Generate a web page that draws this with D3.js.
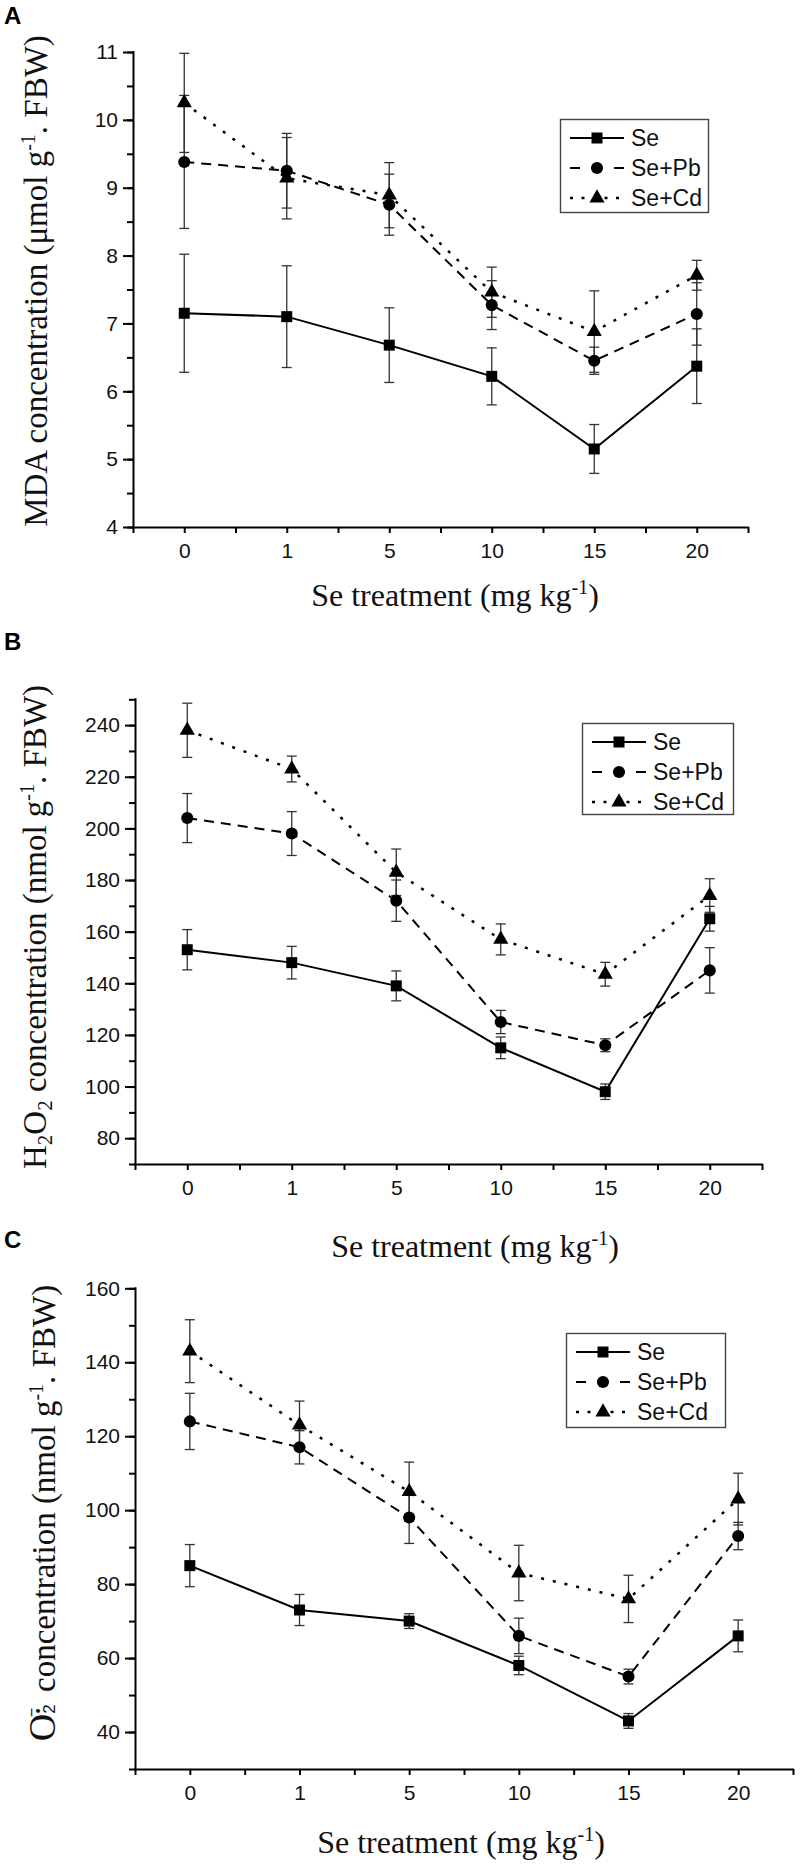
<!DOCTYPE html>
<html>
<head>
<meta charset="utf-8">
<script src="https://cdn.jsdelivr.net/npm/d3@7"></script>
<style>
  html, body { margin: 0; padding: 0; background: #fff; }
  svg { display: block; }
</style>
</head>
<body>
<script>
// ---------------- DATA ----------------
const xLabels = ["0", "1", "5", "10", "15", "20"];
const seriesNames = ["Se", "Se+Pb", "Se+Cd"];

// Panel A: MDA (µmol g-1 FBW)
const mdaSe    = [7.15, 7.10, 6.68, 6.22, 5.15, 6.37];
const mdaSeErr = [0.87, 0.75, 0.55, 0.42, 0.36, 0.55];
const mdaPb    = [9.38, 9.25, 8.75, 7.27, 6.45, 7.14];
const mdaPbErr = [0.98, 0.55, 0.45, 0.36, 0.20, 0.46];
const mdaCd    = [10.25, 9.14, 8.89, 7.46, 6.88, 7.71];
const mdaCdErr = [0.73, 0.60, 0.48, 0.37, 0.60, 0.22];
const mdaTicks = [4, 5, 6, 7, 8, 9, 10, 11];

// Panel B: H2O2 (nmol g-1 FBW)
const h2o2Se    = [153, 148, 139, 115, 98, 165];
const h2o2SeErr = [7.8, 6.3, 5.8, 4.2, 3.0, 4.8];
const h2o2Pb    = [204, 198, 172, 125, 116, 145];
const h2o2PbErr = [9.5, 8.5, 8.0, 4.5, 2.5, 8.8];
const h2o2Cd    = [238, 223, 183, 157, 143.5, 174];
const h2o2CdErr = [10.5, 5.0, 9.0, 6.0, 4.6, 6.5];
const h2o2Ticks = [80, 100, 120, 140, 160, 180, 200, 220, 240];

// Panel C: O2- (nmol g-1 FBW)
const o2Se    = [85, 73, 70, 58, 43, 66];
const o2SeErr = [5.7, 4.2, 2.0, 2.5, 2.0, 4.3];
const o2Pb    = [124, 117, 98, 66, 55, 93];
const o2PbErr = [7.6, 4.5, 7.0, 4.8, 2.0, 3.7];
const o2Cd    = [143, 123, 105, 83, 76, 103];
const o2CdErr = [8.5, 6.5, 8.0, 7.5, 6.4, 7.0];
const o2Ticks = [40, 60, 80, 100, 120, 140, 160];

// ---------------- STYLE ----------------
const SANS = "'Liberation Sans', Arial, sans-serif";
const SERIF = "'Liberation Serif', 'Times New Roman', serif";
const lineStyles = [
  { dash: null, width: 2, symbol: d3.symbolSquare, size: 121 },
  { dash: "10,7", width: 2, symbol: d3.symbolCircle, size: 115 },
  { dash: "3,9", width: 2.5, symbol: d3.symbolTriangle, size: 100 }
];
const legendDash = [null, "10,34", "3,8.5"];

const svg = d3.select("body").append("svg")
  .attr("width", 800).attr("height", 1866)
  .style("background", "#fff");

function drawPanel(p) {
  const g = svg.append("g");
  const x = d3.scaleLinear().domain([-0.5, 5.5]).range([p.left, p.right]);
  const y = d3.scaleLinear().domain(p.yDomain).range([p.bottom, p.top]);

  // panel letter
  g.append("text").attr("x", 4).attr("y", p.letterY)
    .attr("font-family", SANS).attr("font-weight", "bold").attr("font-size", 24)
    .text(p.letter);

  // x axis
  const xAxis = d3.axisBottom(x)
    .tickValues(d3.range(-0.5, 5.51, 0.5))
    .tickSize(6).tickSizeOuter(0).tickPadding(10)
    .tickFormat(d => Number.isInteger(d) ? xLabels[d] : "");
  const gx = g.append("g").attr("transform", `translate(0,${p.bottom})`).call(xAxis);
  gx.select(".domain").attr("stroke-width", 2).attr("d", `M${p.left - 1},0.5H${p.right + 1}`);
  gx.selectAll(".tick line").attr("stroke-width", 2);
  gx.selectAll(".tick text").attr("font-family", SANS).attr("font-size", 21).attr("fill", "#111");

  // y axis minor ticks
  const minor = [];
  for (let v = p.yDomain[0]; v <= p.yDomain[1] + 1e-9; v += p.minorStep) minor.push(+v.toFixed(4));
  const gyMinor = g.append("g").attr("transform", `translate(${p.left},0)`)
    .call(d3.axisLeft(y).tickValues(minor).tickSize(6).tickSizeOuter(0).tickFormat(""));
  gyMinor.select(".domain").remove();
  gyMinor.selectAll(".tick line").attr("stroke-width", 2);

  // y axis major
  const gy = g.append("g").attr("transform", `translate(${p.left},0)`)
    .call(d3.axisLeft(y).tickValues(p.ticks).tickSize(10).tickSizeOuter(0).tickPadding(5)
      .tickFormat(d => String(d)));
  gy.select(".domain").attr("stroke-width", 2).attr("d", `M0.5,${p.top - 1}V${p.bottom + 1}`);
  gy.selectAll(".tick line").attr("stroke-width", 2);
  gy.selectAll(".tick text").attr("font-family", SANS).attr("font-size", 21).attr("fill", "#111");

  // x title
  const xt = g.append("text").attr("x", p.xTitleX).attr("y", p.xTitleY)
    .attr("text-anchor", "middle").attr("font-family", SERIF).attr("font-size", 32).attr("fill", "#111");
  xt.append("tspan").text("Se treatment (mg kg");
  xt.append("tspan").attr("font-size", 20).attr("dy", -12).text("-1");
  xt.append("tspan").attr("dy", 12).text(")");

  // y title
  const yt = g.append("text")
    .attr("transform", `translate(${p.yTitleX},${p.yTitleY}) rotate(-90)`)
    .attr("text-anchor", "middle").attr("font-family", SERIF).attr("font-size", 33).attr("fill", "#111");
  p.yTitle(yt);

  // series
  const idx = d3.range(xLabels.length);
  p.series.forEach((s) => {
    const eb = g.append("g").attr("stroke", "#333").attr("stroke-width", 1.3);
    idx.forEach(i => {
      const cx = x(i), y1 = y(s.values[i] + s.err[i]), y2 = y(s.values[i] - s.err[i]);
      eb.append("line").attr("x1", cx).attr("x2", cx).attr("y1", y1).attr("y2", y2);
      eb.append("line").attr("x1", cx - 5).attr("x2", cx + 5).attr("y1", y1).attr("y2", y1);
      eb.append("line").attr("x1", cx - 5).attr("x2", cx + 5).attr("y1", y2).attr("y2", y2);
    });
  });
  p.series.forEach((s, si) => {
    const st = lineStyles[si];
    g.append("path")
      .datum(idx)
      .attr("fill", "none").attr("stroke", "#000").attr("stroke-width", st.width)
      .attr("stroke-dasharray", st.dash)
      .attr("d", d3.line().x(i => x(i)).y(i => y(s.values[i])));
  });
  p.series.forEach((s, si) => {
    const st = lineStyles[si];
    g.append("g").selectAll("path").data(idx).join("path")
      .attr("transform", i => `translate(${x(i)},${y(s.values[i])})`)
      .attr("d", d3.symbol().type(st.symbol).size(st.size))
      .attr("fill", "#000");
  });

  // legend
  const L = p.legend;
  const lg = g.append("g").attr("transform", `translate(${L.x},${L.y})`);
  lg.append("rect").attr("x", 0.5).attr("y", 0.5).attr("width", L.w).attr("height", L.h)
    .attr("fill", "#fff").attr("stroke", "#444").attr("stroke-width", 1.4);
  seriesNames.forEach((name, si) => {
    const st = lineStyles[si];
    const ry = 19 + si * 30;
    lg.append("line").attr("x1", 10).attr("x2", 64).attr("y1", ry).attr("y2", ry)
      .attr("stroke", "#000").attr("stroke-width", st.width)
      .attr("stroke-dasharray", legendDash[si]);
    lg.append("path").attr("transform", `translate(37,${ry})`)
      .attr("d", d3.symbol().type(st.symbol).size(st.size)).attr("fill", "#000");
    lg.append("text").attr("x", 71).attr("y", ry).attr("dy", "0.36em")
      .attr("font-family", SANS).attr("font-size", 23).attr("fill", "#111").text(name);
  });
}

drawPanel({
  letter: "A", letterY: 24,
  left: 133, right: 748, top: 52, bottom: 527,
  yDomain: [4, 11], ticks: mdaTicks, minorStep: 0.5,
  xTitleX: 455, xTitleY: 606,
  yTitleX: 47, yTitleY: 281,
  yTitle: t => {
    t.append("tspan").text("MDA concentration (\u03bcmol g");
    t.append("tspan").attr("font-size", 20).attr("dy", -12).text("-1");
    t.append("tspan").attr("dy", 12).text(". FBW)");
  },
  series: [
    { values: mdaSe, err: mdaSeErr },
    { values: mdaPb, err: mdaPbErr },
    { values: mdaCd, err: mdaCdErr }
  ],
  legend: { x: 560, y: 119, w: 148, h: 93 }
});

drawPanel({
  letter: "B", letterY: 650,
  left: 135, right: 762, top: 699.3, bottom: 1164,
  yDomain: [70, 250], ticks: h2o2Ticks, minorStep: 10,
  xTitleX: 475, xTitleY: 1257,
  yTitleX: 46, yTitleY: 927,
  yTitle: t => {
    t.append("tspan").text("H");
    t.append("tspan").attr("font-size", 21).attr("dy", 6).text("2");
    t.append("tspan").attr("dy", -6).text("O");
    t.append("tspan").attr("font-size", 21).attr("dy", 6).text("2");
    t.append("tspan").attr("dy", -6).text(" concentration (nmol g");
    t.append("tspan").attr("font-size", 20).attr("dy", -12).text("-1");
    t.append("tspan").attr("dy", 12).text(". FBW)");
  },
  series: [
    { values: h2o2Se, err: h2o2SeErr },
    { values: h2o2Pb, err: h2o2PbErr },
    { values: h2o2Cd, err: h2o2CdErr }
  ],
  legend: { x: 582, y: 723, w: 151, h: 91 }
});

drawPanel({
  letter: "C", letterY: 1248,
  left: 135, right: 793, top: 1288.3, bottom: 1769,
  yDomain: [30, 160], ticks: o2Ticks, minorStep: 10,
  xTitleX: 461, xTitleY: 1853,
  yTitleX: 55, yTitleY: 1513,
  yTitle: t => {
    t.append("tspan").attr("font-size", 38).text("O");
    t.append("tspan").attr("font-family", SANS).attr("font-size", 17).text("2");
    t.append("tspan").attr("font-family", SANS).attr("font-size", 14).attr("dx", -9).attr("dy", -12).text("\u2022");
    t.append("tspan").attr("font-family", SANS).attr("font-size", 16).attr("dx", -9).attr("dy", -6).text("\u2212");
    t.append("tspan").attr("dx", 16).attr("dy", 18).text("concentration (nmol g");
    t.append("tspan").attr("font-size", 20).attr("dy", -12).text("-1");
    t.append("tspan").attr("dy", 12).text(". FBW)");
  },
  series: [
    { values: o2Se, err: o2SeErr },
    { values: o2Pb, err: o2PbErr },
    { values: o2Cd, err: o2CdErr }
  ],
  legend: { x: 566, y: 1333, w: 159, h: 94 }
});
</script>
</body>
</html>
